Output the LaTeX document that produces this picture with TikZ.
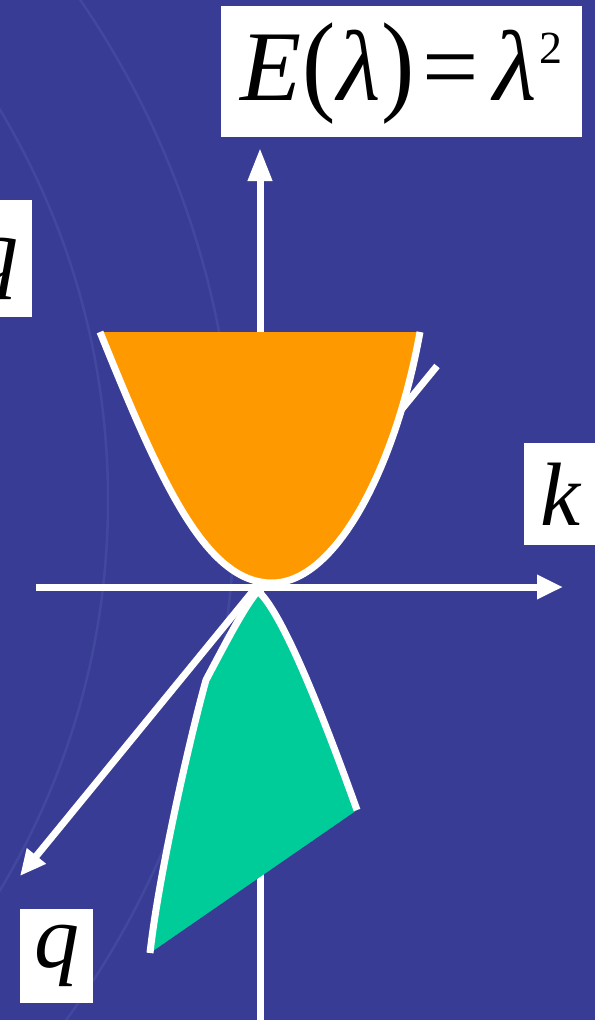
\documentclass[tikz,border=0pt]{standalone}
\usepackage{fontspec}
\setmainfont{Liberation Serif}
\usepackage{tikz}
\usetikzlibrary{arrows.meta,positioning,calc}
\definecolor{navy}{HTML}{383C94}
\definecolor{seal}{HTML}{4A50A6}
\definecolor{amber}{HTML}{FF9900}
\definecolor{mint}{HTML}{00CC99}
\newcommand{\tallparen}[1]{\scalebox{1}[1.12]{#1}}

\begin{document}
\begin{tikzpicture}[x=1pt,y=-1pt]
    \tikzset{
      lbl/.style={fill=white,inner sep=0pt,anchor=base,font=\fontsize{90}{90}\selectfont\itshape},
      axis/.style={draw=white,line width=7pt,-{Triangle[length=26pt,width=23pt]}},
      rim/.style={draw=white,line width=7pt,line join=round}
    }
    \useasboundingbox (0,0) rectangle (595,1020);
    \clip (0,0) rectangle (595,1020);
    \fill[navy] (0,0) rectangle (595,1020);
    % faint seal behind
    \draw[seal,line width=2.5pt,opacity=0.6] (-650,500) circle[radius=758] (-650,500) circle[radius=885];
    \coordinate (origin) at (260,587);
    \coordinate (etop) at (260,148);
    \coordinate (ebot) at (260,1030);
    \coordinate (kleft) at (36,587);
    \coordinate (kright) at (563,587);
    \coordinate (qback) at (437,366);
    \coordinate (qfront) at (20,876);
    \draw[axis,-{Triangle[length=33pt,width=23pt]}] (ebot) -- (etop);
    \draw[axis] (kleft) -- (kright);
    \draw[axis] (qback) -- (qfront);
    % upper sheet
    \filldraw[fill=amber,rim] (100,332) .. controls (160,480) and (205,583) .. (272,583)
      .. controls (335,583) and (395,470) .. (420,332);
    % lower sheet
    \filldraw[fill=mint,rim] (357,810) .. controls (330,735) and (285,615) .. (258,591)
      .. controls (245,605) and (222,650) .. (206,680)
      .. controls (188,745) and (158,880) .. (150,953);
    % labels
    \node[lbl,font=\fontsize{100}{100}\selectfont,text height=94pt,text depth=37pt,minimum width=361pt] (formula) at (401.5,100)
      {\textit{E}\kern1pt\tallparen{(}\kern1pt\textit{λ}\kern1pt\tallparen{)}\kern8pt=\kern14pt\textit{λ}\kern3pt\raisebox{37pt}{\fontsize{46}{46}\selectfont 2}};
    \node[lbl,text height=82pt,text depth=20pt,minimum width=73pt] (klabel) at (560.5,525) {k};
    \node[lbl,text height=58pt,text depth=36pt,minimum width=73pt] (qlabel) at (56.5,967) {q};
    \node[lbl,text height=80pt,text depth=37pt,minimum width=73pt] (qside) at (-4.5,280) {q};
\end{tikzpicture}
\end{document}
